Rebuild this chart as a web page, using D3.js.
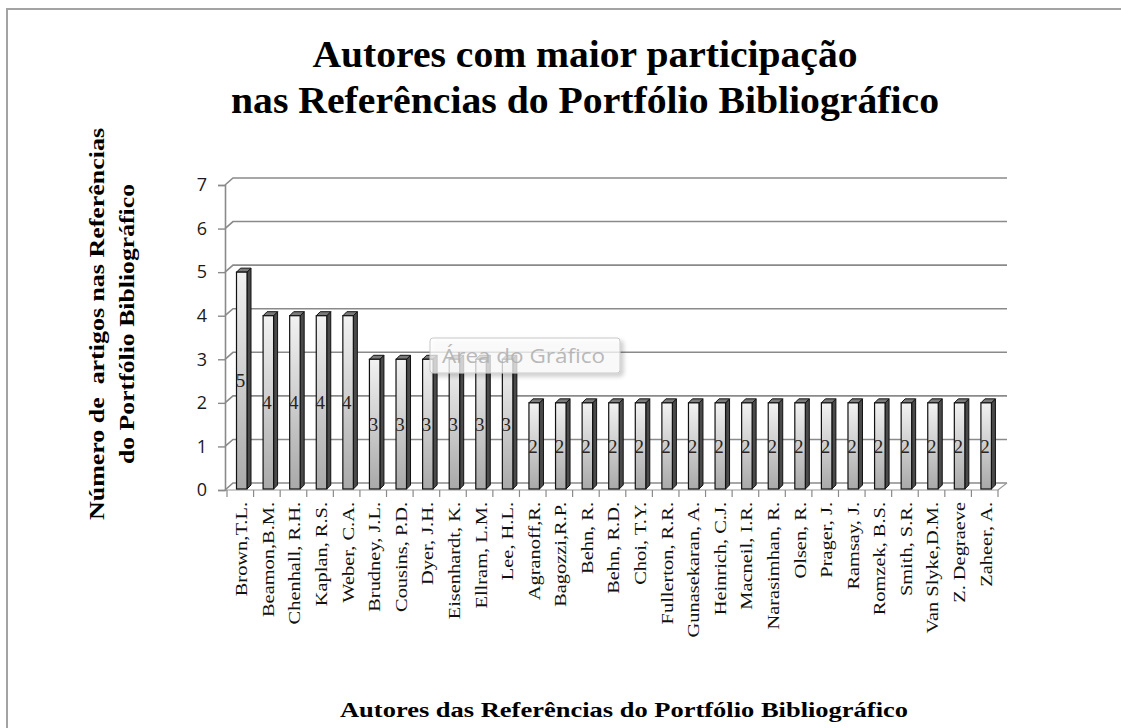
<!DOCTYPE html>
<html><head><meta charset="utf-8">
<script src="https://d3js.org/d3.v7.min.js"></script>
<style>body{margin:0;background:#fff}svg{display:block}</style>
</head><body>
<script>
const categories = ["Brown,T.L.","Beamon,B.M.","Chenhall, R.H.","Kaplan, R.S.","Weber, C.A.","Brudney, J.L.","Cousins, P.D.","Dyer, J.H.","Eisenhardt, K.","Ellram, L.M.","Lee, H.L.","Agranoff,R.","Bagozzi,R.P.","Behn, R.","Behn, R.D.","Choi, T.Y.","Fullerton, R.R.","Gunasekaran, A.","Heinrich, C.J.","Macneil, I.R.","Narasimhan, R.","Olsen, R.","Prager, J.","Ramsay, J.","Romzek, B.S.","Smith, S.R.","Van Slyke,D.M.","Z. Degraeve","Zaheer, A."];
const values = [5,4,4,4,4,3,3,3,3,3,3,2,2,2,2,2,2,2,2,2,2,2,2,2,2,2,2,2,2];
const yTicks = [0,1,2,3,4,5,6,7];
const titleLines = ["Autores com maior participação","nas Referências do Portfólio Bibliográfico"];
const yTitleLines = ["Número de  artigos nas Referências","do Portfólio Bibliográfico"];
const xTitle = "Autores das Referências do Portfólio Bibliográfico";

const W = 1121, H = 728;
const svg = d3.select("body").append("svg").attr("width", W).attr("height", H);
const defs = svg.append("defs");
const g1 = defs.append("linearGradient").attr("id","front").attr("x1",0).attr("y1",0).attr("x2",0).attr("y2",1);
g1.append("stop").attr("offset","0%").attr("stop-color","#f2f2f2");
g1.append("stop").attr("offset","100%").attr("stop-color","#a9a9a9");
const sh = defs.append("filter").attr("id","shadow").attr("x","-10%").attr("y","-20%").attr("width","130%").attr("height","160%");
sh.append("feDropShadow").attr("dx",3).attr("dy",3).attr("stdDeviation",2).attr("flood-color","#000").attr("flood-opacity",0.25);

// outer frame
svg.append("rect").attr("x",7).attr("y",9).attr("width",1130).attr("height",740)
  .attr("fill","none").attr("stroke","#a3a3a3").attr("stroke-width",2);

const serif = "'Liberation Serif','Times New Roman',serif";
const x = d3.scaleBand().domain(categories).range([227, 998]).padding(0);
const y = d3.scaleLinear().domain([0,7]).range([490, 185]);
const DX = 8, DY = -7;

// back wall gridlines with diagonal
const grid = svg.append("g");
yTicks.forEach(v => {
  grid.append("path")
    .attr("d", `M225,${y(v)}L${225+DX},${y(v)+DY}L1007,${y(v)+DY}`)
    .attr("fill","none").attr("stroke","#8a8a8a").attr("stroke-width",1.6);
});
// floor front edge
svg.append("path").attr("d",`M225,${y(0)}L998,${y(0)}L1007,${y(0)+DY}`)
  .attr("fill","none").attr("stroke","#9a9a9a").attr("stroke-width",1.2);

// y axis
const yAxis = d3.axisLeft(y).tickValues(yTicks).tickSize(7).tickPadding(11).tickFormat(d3.format("d"));
const ya = svg.append("g").attr("transform","translate(225,0)").call(yAxis);
ya.select(".domain").attr("stroke","#8a8a8a").attr("stroke-width",1.6);
ya.selectAll(".tick line").attr("stroke","#8a8a8a").attr("stroke-width",1.4);
ya.selectAll(".tick text").attr("font-family","'Open Sans','DejaVu Sans',sans-serif").attr("font-size",18).attr("fill","#1a1a1a");

// x axis
const xAxis = d3.axisBottom(x).tickSize(0).tickPadding(0);
const xa = svg.append("g").attr("transform",`translate(0,${y(0)})`).call(xAxis);
xa.select(".domain").remove();
categories.forEach((c,i)=>{
  xa.append("line").attr("x1",x(c)).attr("x2",x(c)).attr("y1",0).attr("y2",7).attr("stroke","#8a8a8a").attr("stroke-width",1.2);
});
xa.append("line").attr("x1",x.range()[1]).attr("x2",x.range()[1]).attr("y1",0).attr("y2",7).attr("stroke","#8a8a8a").attr("stroke-width",1.2);
xa.selectAll(".tick text")
  .attr("font-family",serif).attr("font-size",17).attr("fill","#111")
  .attr("text-anchor","end").attr("dy","0.35em")
  .attr("transform","translate(1,12) rotate(-90)")
  .each(function(){
    const L = this.getComputedTextLength();
    d3.select(this).attr("textLength", L*1.2).attr("lengthAdjust","spacingAndGlyphs");
  });

// bars
const bw = 10.5, off = 9.5, dep = 4;
const bars = svg.append("g").selectAll("g").data(categories).join("g");
bars.each(function(c,i){
  const g = d3.select(this);
  const x0 = x(c)+off, x1 = x0+bw, yt = y(values[i]), yb = y(0)-1;
  g.append("path").attr("d",`M${x1},${yt}L${x1+dep},${yt-dep}L${x1+dep},${yb-dep}L${x1},${yb}Z`)
    .attr("fill","#4a4a4a").attr("stroke","#111").attr("stroke-width",1);
  g.append("path").attr("d",`M${x0},${yt}L${x0+dep},${yt-dep}L${x1+dep},${yt-dep}L${x1},${yt}Z`)
    .attr("fill","#7a7a7a").attr("stroke","#111").attr("stroke-width",1);
  g.append("rect").attr("x",x0).attr("y",yt).attr("width",bw).attr("height",yb-yt)
    .attr("fill","url(#front)").attr("stroke","#111").attr("stroke-width",1.2);
  g.append("text").attr("x",x0+4).attr("y",(yt+yb)/2).attr("dy","0.35em")
    .attr("text-anchor","middle").attr("font-family",serif).attr("font-size",19)
    .attr("fill","#2b2420").text(values[i]);
});

// tooltip box
const tip = svg.append("g");
tip.append("rect").attr("x",430).attr("y",338).attr("width",190).attr("height",35).attr("rx",3)
  .attr("fill","#fff").attr("fill-opacity",0.72).attr("stroke","#c8c8c8").attr("filter","url(#shadow)");
tip.append("text").attr("x",442).attr("y",356).attr("dy","0.35em")
  .attr("font-family","'Open Sans','DejaVu Sans',sans-serif").attr("font-size",20)
  .attr("textLength",163).attr("lengthAdjust","spacingAndGlyphs")
  .attr("fill","#b0b0b0").attr("fill-opacity",0.9).text("Área do Gráfico");

// title
const titleLen = [545, 708];
svg.append("g").selectAll("text").data(titleLines).join("text")
  .attr("x",585).attr("y",(d,i)=>67+i*46).attr("text-anchor","middle")
  .attr("font-family",serif).attr("font-weight","bold").attr("font-size",37).attr("fill","#000")
  .attr("textLength",(d,i)=>titleLen[i]).attr("lengthAdjust","spacingAndGlyphs")
  .text(d=>d);

// y title
const yTitleLen = [392, 280];
svg.append("g").selectAll("text").data(yTitleLines).join("text")
  .attr("transform",(d,i)=>`translate(${104+i*30},324) rotate(-90)`).attr("text-anchor","middle")
  .attr("font-family",serif).attr("font-weight","bold").attr("font-size",22).attr("fill","#000")
  .attr("textLength",(d,i)=>yTitleLen[i]).attr("lengthAdjust","spacingAndGlyphs")
  .attr("xml:space","preserve")
  .text(d=>d);

// x title
svg.append("text").attr("x",624).attr("y",717).attr("text-anchor","middle")
  .attr("font-family",serif).attr("font-weight","bold").attr("font-size",22).attr("fill","#000")
  .attr("textLength",568).attr("lengthAdjust","spacingAndGlyphs")
  .text(xTitle);
</script>
</body></html>
